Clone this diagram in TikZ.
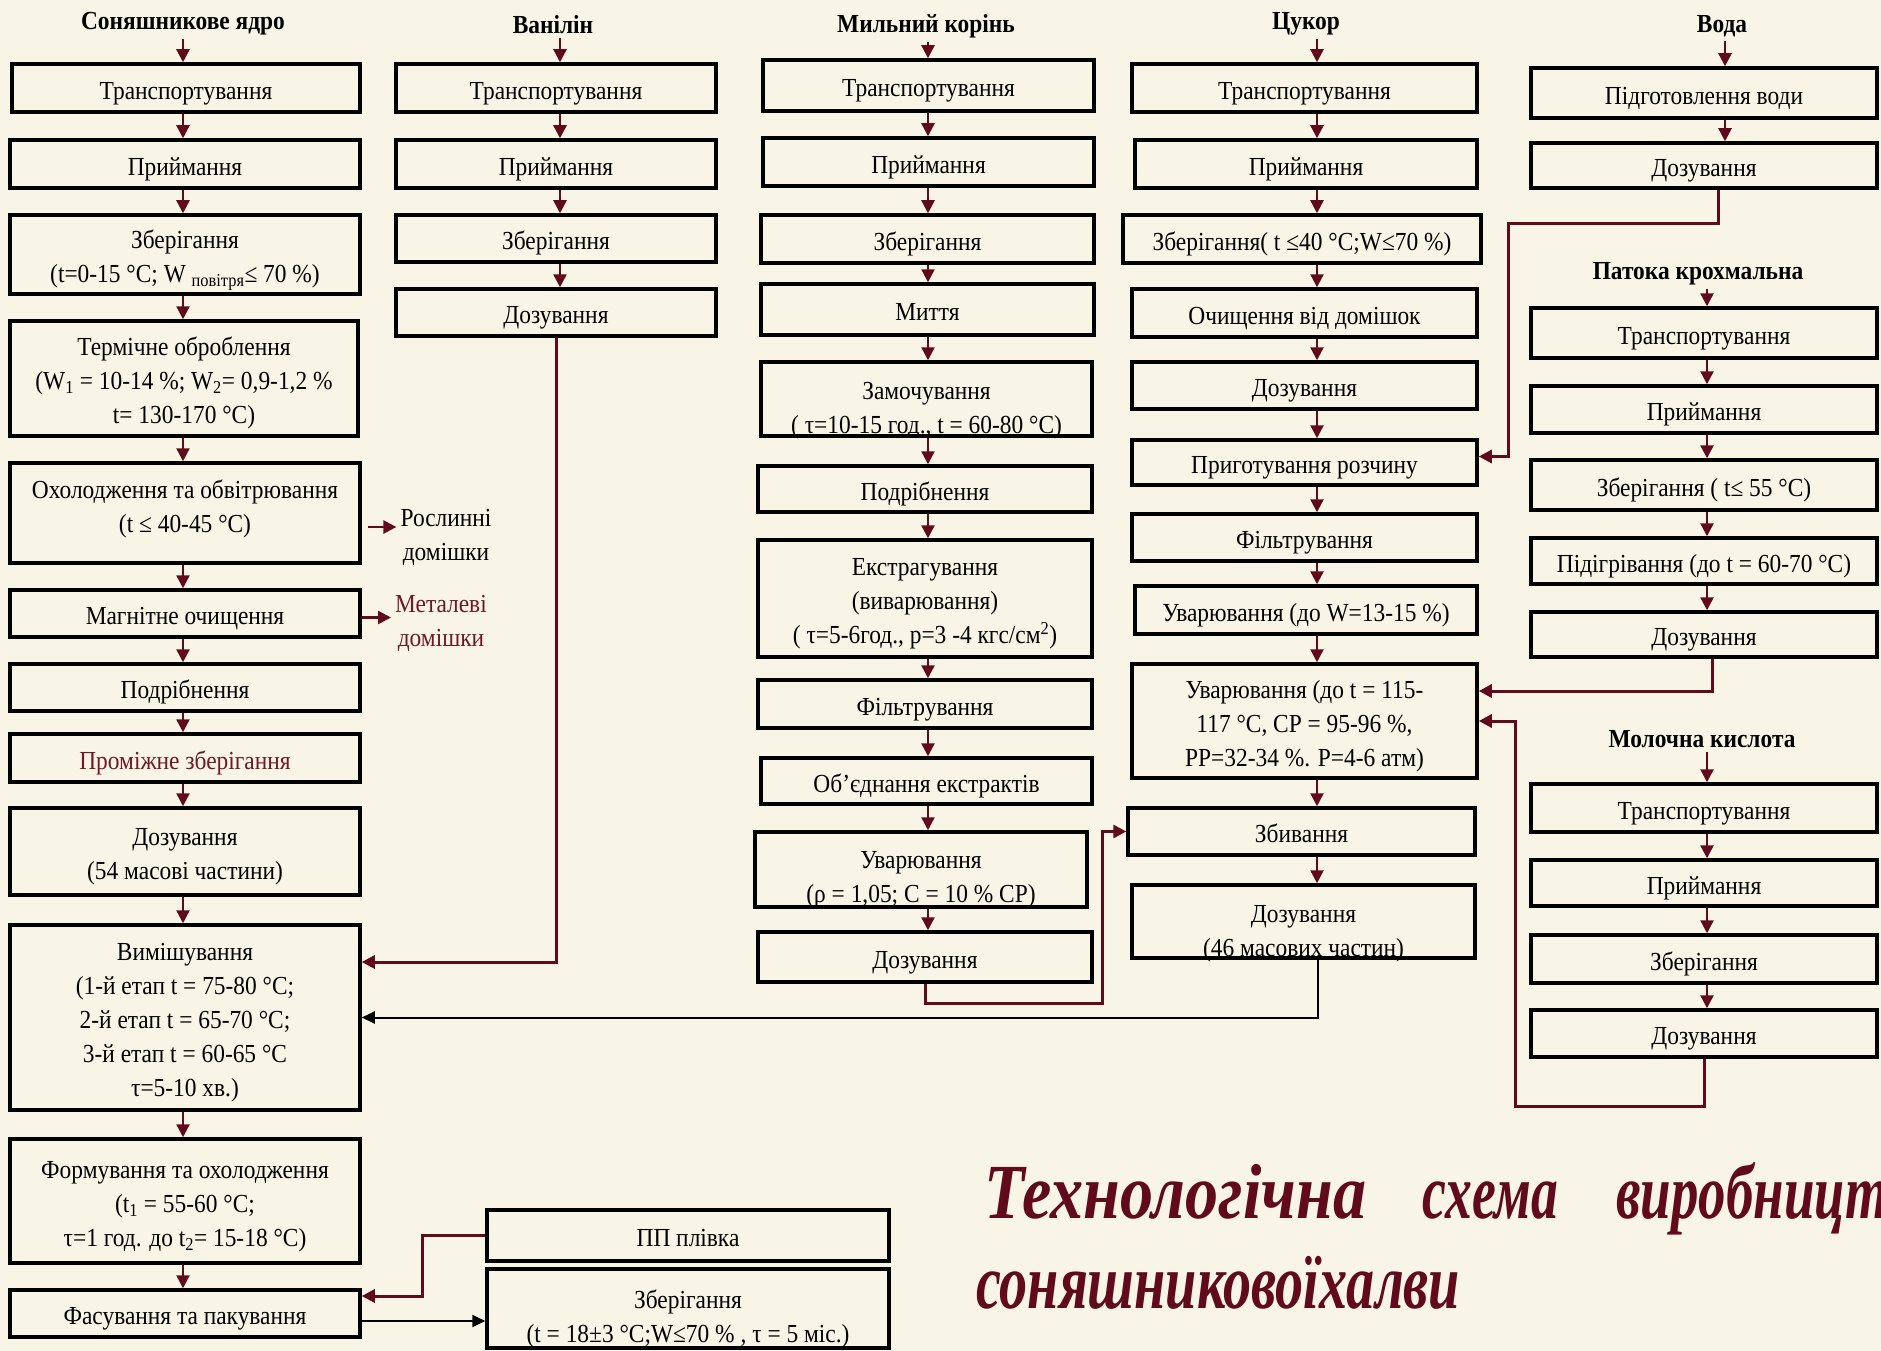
\documentclass[tikz,border=0pt]{standalone}
\usepackage{fontspec}
\usepackage{graphicx}
\setmainfont{Liberation Serif}[FakeStretch=0.9]
\newfontfamily\titlefamily{Liberation Serif}[FakeStretch=0.8]
\usetikzlibrary{arrows.meta}

\definecolor{paper}{RGB}{248,245,230}
\definecolor{wine}{RGB}{96,10,28}
\definecolor{winetext}{RGB}{112,24,36}

% vertical offset of the text inside a step box
\def\dropamt{4.5pt}
% a process step given by its corner coordinates: name, x1, y1, x2, y2, text
\newcommand\stepnode[7][]{%
  \node[box,minimum width={#5-#3},minimum height={#6-#4},#1] (#2)
    at ({(#3+#5)/2},{(#4+#6)/2})
    {\raisebox{-\dropamt}[\height][\depth]{\begin{tabular}{@{}c@{}}#7\end{tabular}}};}

\begin{document}
\begin{tikzpicture}[x=1pt,y=-1pt,
  font=\fontsize{26}{34}\selectfont,
  drop/.code={\def\dropamt{#1}},
  box/.style={draw=black,line width=3.5pt,inner sep=2pt},
  head/.style={font=\fontsize{26}{34}\selectfont\bfseries,inner sep=4pt},
  lbl/.style={align=center,inner sep=4pt},
  arr/.style={draw=wine,line width=2.5pt,-{Triangle[length=13pt,width=13pt]}},
  link/.style={draw=wine,line width=3pt,-{Triangle[length=13pt,width=13pt]}},
  blk/.style={draw=black,line width=2pt,-{Triangle[length=13pt,width=12pt]}},
  ttl/.style={font=\titlefamily\bfseries\itshape\fontsize{78}{90}\selectfont,text=wine,inner sep=0pt}]

\useasboundingbox (0,0) rectangle (1881,1351);
\fill[paper] (0,0) rectangle (1881,1351);

% axes of the vertical flows
\coordinate (ax1) at (183,0);
\coordinate (ax2) at (560,0);
\coordinate (ax3) at (928,0);
\coordinate (ax4) at (1317,0);
\coordinate (ax5w) at (1725,0);
\coordinate (ax5) at (1707,0);

% ---------- sunflower kernel ----------
\node[head] (h1) at (183,23.5) {Соняшникове ядро};
\stepnode{c1a}{12}{64}{360}{112}{Транспортування}
\stepnode{c1b}{10}{140}{360}{188}{Приймання}
\stepnode{c1c}{10}{215}{360}{294}{Зберігання\\(t=0-15 °C; W \textsubscript{повітря}≤ 70 \%)}
\stepnode{c1d}{10}{321}{358}{436}{Термічне оброблення\\(W\textsubscript{1} = 10-14 \%; W\textsubscript{2}= 0,9-1,2 \%\\t= 130-170 °C)}
\stepnode[drop=-4.5pt]{c1e}{10}{463}{360}{563}{Охолодження та обвітрювання\\(t ≤ 40-45 °C)}
\stepnode{c1f}{10}{590}{360}{637}{Магнітне очищення}
\stepnode{c1g}{10}{664}{360}{711}{Подрібнення}
\stepnode[text=winetext]{c1h}{10}{734}{360}{782}{Проміжне зберігання}
\stepnode{c1i}{10}{808}{360}{895}{Дозування\\(54 масові частини)}
\stepnode{c1j}{10}{925}{360}{1110}{Вимішування\\(1-й етап t = 75-80 °C;\\2-й етап t = 65-70 °C;\\3-й етап t = 60-65 °C\\τ=5-10 хв.)}
\stepnode{c1k}{10}{1139}{360}{1263}{Формування та охолодження\\(t\textsubscript{1} = 55-60 °C;\\τ=1 год. до t\textsubscript{2}= 15-18 °C)}
\stepnode{c1l}{10}{1290}{360}{1337}{Фасування та пакування}

\node[lbl] (ros) at (446,537.5) {Рослинні\\домішки};
\node[lbl,text=winetext] (met) at (441,623.5) {Металеві\\домішки};

% ---------- vanillin ----------
\node[head] (h2) at (553,24.5) {Ванілін};
\stepnode{c2a}{396}{64}{716}{112}{Транспортування}
\stepnode{c2b}{396}{140}{716}{188}{Приймання}
\stepnode{c2c}{396}{215}{716}{262}{Зберігання}
\stepnode{c2d}{396}{289}{716}{336}{Дозування}

% ---------- soap root ----------
\node[head] (h3) at (926,26.4) {Мильний корінь};
\stepnode{c3a}{763}{60}{1094}{111}{Транспортування}
\stepnode{c3b}{763}{138}{1094}{186}{Приймання}
\stepnode{c3c}{761}{215}{1094}{263}{Зберігання}
\stepnode{c3d}{761}{284}{1094}{335}{Миття}
\stepnode[drop=10.6pt]{c3e}{761}{362}{1092}{436}{Замочування\\( τ=10-15 год., t = 60-80 °C)}
\stepnode{c3f}{758}{466}{1092}{512}{Подрібнення}
\stepnode{c3g}{758}{540}{1092}{657}{Екстрагування\\(виварювання)\\( τ=5-6год., р=3 -4 кгс/см\textsuperscript{2})}
\stepnode{c3h}{758}{680}{1092}{728}{Фільтрування}
\stepnode{c3i}{761}{758}{1092}{804}{Об’єднання екстрактів}
\stepnode[drop=9.5pt]{c3j}{755}{832}{1087}{907}{Уварювання\\(ρ = 1,05; С = 10 \% СР)}
\stepnode{c3k}{758}{932}{1092}{982}{Дозування}

% ---------- sugar ----------
\node[head] (h4) at (1306,23.5) {Цукор};
\stepnode{c4a}{1132}{64}{1477}{112}{Транспортування}
\stepnode{c4b}{1135}{140}{1477}{188}{Приймання}
\stepnode{c4c}{1123}{215}{1481}{263}{Зберігання( t ≤40 °C;W≤70 \%)}
\stepnode{c4d}{1132}{289}{1477}{337}{Очищення від домішок}
\stepnode{c4e}{1132}{362}{1477}{409}{Дозування}
\stepnode{c4f}{1132}{440}{1477}{485}{Приготування розчину}
\stepnode{c4g}{1132}{514}{1477}{561}{Фільтрування}
\stepnode{c4h}{1135}{586}{1477}{634}{Уварювання (до W=13-15 \%)}
\stepnode{c4i}{1132}{664}{1477}{778}{Уварювання (до t = 115-\\117 °C, СР = 95-96 \%,\\РР=32-34 \%. Р=4-6 атм)}
\stepnode{c4j}{1128}{808}{1475}{855}{Збивання}
\stepnode[drop=11pt]{c4k}{1132}{885}{1475}{958}{Дозування\\(46 масових частин)}

% ---------- water, starch syrup, lactic acid ----------
\node[head] (h5) at (1722,26.4) {Вода};
\stepnode{c5a}{1531}{68}{1877}{118}{Підготовлення води}
\stepnode{c5b}{1531}{143}{1877}{188}{Дозування}

\node[head] (h6) at (1698,273.6) {Патока крохмальна};
\stepnode{c5c}{1531}{308}{1877}{358}{Транспортування}
\stepnode{c5d}{1531}{386}{1877}{433}{Приймання}
\stepnode{c5e}{1531}{460}{1877}{510}{Зберігання ( t≤ 55 °C)}
\stepnode{c5f}{1531}{538}{1877}{584}{Підігрівання (до t = 60-70 °C)}
\stepnode{c5g}{1531}{612}{1877}{657}{Дозування}

\node[head] (h7) at (1702,739) {Молочна кислота};
\stepnode{c5h}{1531}{784}{1877}{832}{Транспортування}
\stepnode{c5i}{1531}{860}{1877}{906}{Приймання}
\stepnode{c5j}{1531}{935}{1877}{983}{Зберігання}
\stepnode{c5k}{1531}{1010}{1877}{1057}{Дозування}

% ---------- packing ----------
\stepnode{b1}{487}{1210}{889}{1261}{ПП плівка}
\stepnode[drop=10.5pt]{b2}{487}{1269}{889}{1348}{Зберігання\\(t = 18±3 °C;W≤70 \% , τ = 5 міс.)}

% ---------- flows inside the columns ----------
\draw[arr] (h1.south -| ax1) -- (c1a.north -| ax1);
\foreach \a/\b in {c1a/c1b,c1b/c1c,c1c/c1d,c1d/c1e,c1e/c1f,c1f/c1g,c1g/c1h,c1h/c1i,c1i/c1j,c1j/c1k,c1k/c1l}
  \draw[arr] (\a.south -| ax1) -- (\b.north -| ax1);
\draw[arr] (h2.south -| ax2) -- (c2a.north -| ax2);
\foreach \a/\b in {c2a/c2b,c2b/c2c,c2c/c2d}
  \draw[arr] (\a.south -| ax2) -- (\b.north -| ax2);
\draw[arr] (h3.south -| ax3) -- (c3a.north -| ax3);
\foreach \a/\b in {c3a/c3b,c3b/c3c,c3c/c3d,c3d/c3e,c3e/c3f,c3f/c3g,c3g/c3h,c3h/c3i,c3i/c3j,c3j/c3k}
  \draw[arr] (\a.south -| ax3) -- (\b.north -| ax3);
\draw[arr] (h4.south -| ax4) -- (c4a.north -| ax4);
\foreach \a/\b in {c4a/c4b,c4b/c4c,c4c/c4d,c4d/c4e,c4e/c4f,c4f/c4g,c4g/c4h,c4h/c4i,c4i/c4j,c4j/c4k}
  \draw[arr] (\a.south -| ax4) -- (\b.north -| ax4);
\draw[arr] (h5.south -| ax5w) -- (c5a.north -| ax5w);
\draw[arr] (c5a.south -| ax5w) -- (c5b.north -| ax5w);
\draw[arr] (h6.south -| ax5) -- (c5c.north -| ax5);
\foreach \a/\b in {c5c/c5d,c5d/c5e,c5e/c5f,c5f/c5g}
  \draw[arr] (\a.south -| ax5) -- (\b.north -| ax5);
\draw[arr] (h7.south -| ax5) -- (c5h.north -| ax5);
\foreach \a/\b in {c5h/c5i,c5i/c5j,c5j/c5k}
  \draw[arr] (\a.south -| ax5) -- (\b.north -| ax5);

% ---------- side outputs ----------
\draw[arr] ([xshift=6pt,yshift=-14pt]c1e.east) -- ([yshift=-14pt]c1e.east -| ros.west);
\draw[arr] ([yshift=-4pt]c1f.east) -- ([yshift=-4pt]c1f.east -| met.west);

% ---------- links between the columns ----------
\draw[link] (c2d.south) |- ([yshift=55.5pt]c1j.east);
\draw[blk] ([xshift=14pt]c4k.south) |- (c1j.east);
\draw[link] (c3k.south) -- ++(0,20) -| ([xshift=-24pt]c4j.west) -- (c4j.west);
\draw[link] ([xshift=14pt]c5b.south) -- ++(0,34) -| ([xshift=30pt,yshift=6pt]c4f.east) -- ([yshift=6pt]c4f.east);
\draw[link] ([xshift=8pt]c5g.south) |- ([yshift=30pt]c4i.east);
\draw[link] (c5k.south) -- ++(0,48) -| ([xshift=37pt]c4i.east) -- (c4i.east);
\draw[link] (b1.west) -- ++(-63,0) |- ([yshift=17.5pt]c1l.east);
\draw[blk] ([yshift=-7.5pt]c1l.east) -- ([yshift=-7.5pt]c1l.east -| b2.west);

% ---------- heading of the scheme ----------
\begin{scope}
  \clip (0,0) rectangle (1881,1351);
  \node[ttl,anchor=base west] (t1) at (984,1218)
    {\scalebox{1.06}[1]{Технологічна}\hspace{56pt}\scalebox{0.86}[1]{схема}\hspace{58pt}\scalebox{0.88}[1]{виробництва}};
  \node[ttl,anchor=base west] (t2) at (976,1308) {\scalebox{0.9}[1]{соняшниковоїхалви}};
\end{scope}
\end{tikzpicture}
\end{document}
